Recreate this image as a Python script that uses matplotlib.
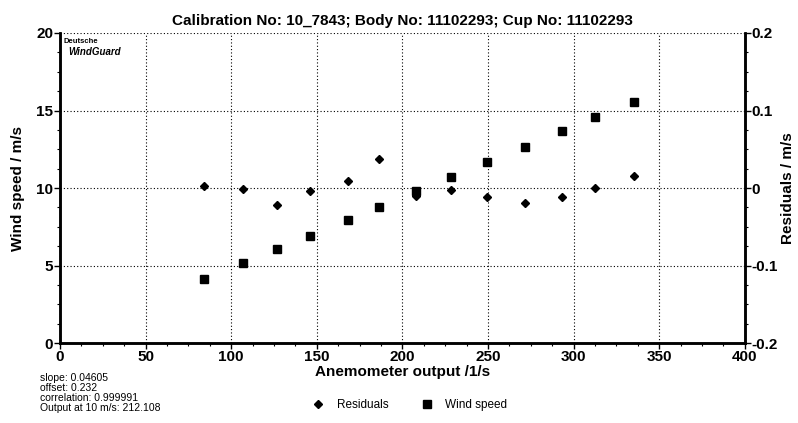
import matplotlib.pyplot as plt
from matplotlib.ticker import MultipleLocator

plt.rcParams['font.family'] = ['Liberation Sans', 'DejaVu Sans']

# anemometer output (1/s)
output = [84.4, 106.8, 127.0, 146.2, 168.0, 186.2, 208.0, 228.5, 249.5,
          271.5, 293.0, 312.3, 335.3]
# wind speed (m/s)
wind_speed = [4.10, 5.14, 6.05, 6.92, 7.94, 8.77, 9.83, 10.73, 11.65,
              12.65, 13.66, 14.60, 15.57]
# residuals (m/s)
residuals = [0.003, -0.001, -0.022, -0.004, 0.009, 0.038, -0.010, -0.002,
             -0.012, -0.019, -0.012, 0.000, 0.016]

stats = ["slope: 0.04605", "offset: 0.232", "correlation: 0.999991",
         "Output at 10 m/s: 212.108"]

fig = plt.figure(figsize=(7.98, 4.23), dpi=100)
ax = fig.add_axes([0.0752, 0.189, 0.858, 0.733])
ax2 = ax.twinx()

ax.set_xlim(0, 400)
ax.set_ylim(0, 20)
ax2.set_ylim(-0.2, 0.2)

sq, = ax.plot(output, wind_speed, 's', color='black', markersize=6, label='Wind speed')
dm, = ax2.plot(output, residuals, 'D', color='black', markersize=4, label='Residuals')

ax.set_xticks(range(0, 401, 50))
ax.set_yticks([0, 5, 10, 15, 20])
ax2.set_yticks([-0.2, -0.1, 0, 0.1, 0.2])
ax2.set_yticklabels(['-0.2', '-0.1', '0', '0.1', '0.2'])
ax.xaxis.set_minor_locator(MultipleLocator(12.5))
ax.yaxis.set_minor_locator(MultipleLocator(1.25))
ax2.yaxis.set_minor_locator(MultipleLocator(0.025))

ax.grid(True, which='major', color='black', linestyle=(0, (1, 2)), linewidth=0.8)

for a in (ax, ax2):
    for s in ('left', 'right', 'bottom'):
        a.spines[s].set_linewidth(1.8)
    a.spines['top'].set_visible(False)
    a.tick_params(which='major', length=4, width=1, labelsize=11, pad=1)
    a.tick_params(which='minor', length=2, width=0.8)
    for lbl in a.get_xticklabels() + a.get_yticklabels():
        lbl.set_fontweight('bold')

ax.set_xlabel('Anemometer output /1/s', fontsize=11, fontweight='bold', labelpad=1)
ax.set_ylabel('Wind speed / m/s', fontsize=11, fontweight='bold', labelpad=8)
ax2.set_ylabel('Residuals / m/s', fontsize=11, fontweight='bold', labelpad=2)
ax.set_title('Calibration No: 10_7843; Body No: 11102293; Cup No: 11102293',
             fontsize=11, fontweight='bold', pad=6)

ax.text(0.005, 0.985, 'Deutsche', transform=ax.transAxes, fontsize=5.5,
        fontweight='bold', va='top', ha='left')
ax.text(0.012, 0.955, 'WindGuard', transform=ax.transAxes, fontsize=7,
        fontweight='bold', style='italic', va='top', ha='left')

fig.text(0.05, 0.118, '\n'.join(stats), fontsize=7.5, va='top', ha='left',
         linespacing=1.0)

fig.legend(handles=[dm, sq], loc='center', bbox_to_anchor=(0.51, 0.042),
           ncol=2, frameon=False, fontsize=8.5, handletextpad=0.6,
           columnspacing=2.2, markerscale=0.9)

fig.savefig('out.png', dpi=100)
